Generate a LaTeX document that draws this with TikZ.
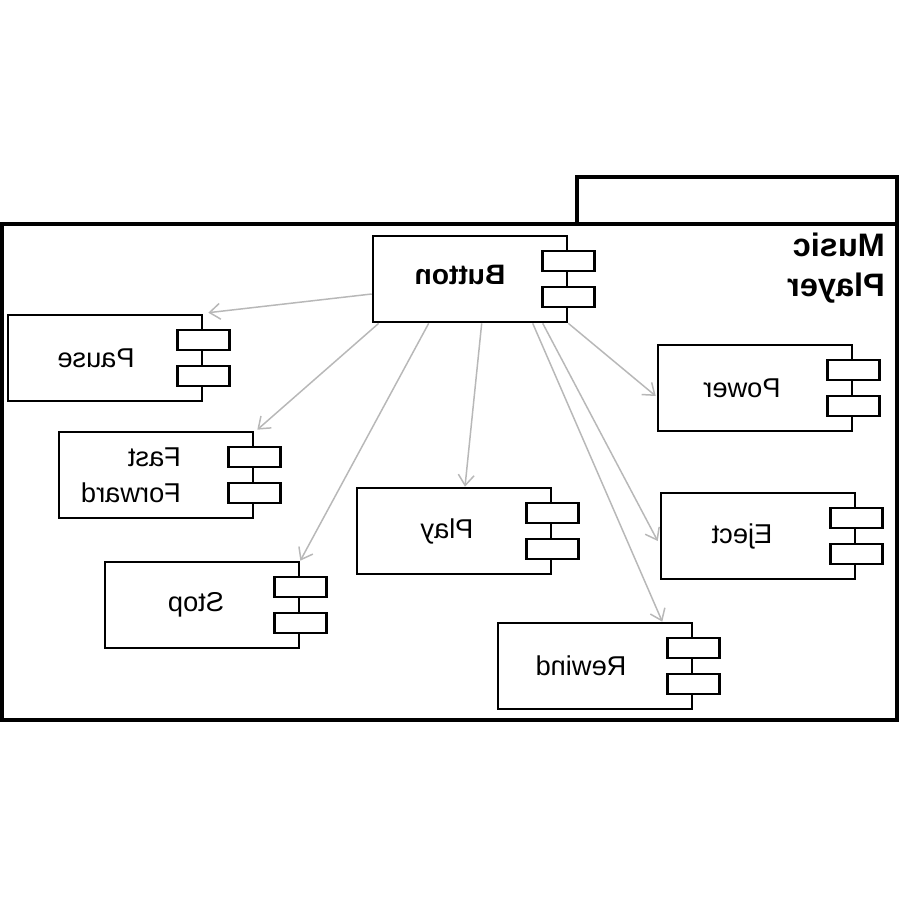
\documentclass[tikz,border=0pt]{standalone}
\usepackage{fontspec}
\setmainfont{Liberation Sans}
\usetikzlibrary{calc,arrows.meta}
\tikzstyle{comp} = [rectangle, draw, line width=1.5pt, fill=white, minimum width=3.88cm, minimum height=1.72cm, inner sep=0pt]
\tikzstyle{port} = [rectangle, draw, line width=1.5pt, fill=white, minimum width=1.04cm, minimum height=0.4cm, inner sep=0pt]
\tikzstyle{mirtext} = [xscale=-1, align=left, inner sep=1pt, font=\fontsize{15.5}{20.5}\selectfont]
\tikzstyle{uses} = [draw=black!28, line width=0.85pt, -{Straight Barb[length=6pt,width=9pt]}]

\begin{document}
\begin{tikzpicture}[x=0.02cm,y=-0.02cm]
  \useasboundingbox (0,0) rectangle (900,900);
  % package frame
  \draw[line width=1.8pt] (2,224) rectangle (897,720);
  \draw[line width=1.8pt] (577,224) |- (897,177) -- (897,224);
  \node[mirtext, anchor=west, font=\fontsize{18.5}{23}\selectfont\bfseries] (title) at (887,268) {Music\\Player};

  % components
  \node[comp] (button) at (470,279) {};
  \node[comp] (pause) at (105,358) {};
  \node[comp] (ff) at (156,475) {};
  \node[comp] (stop) at (202,605) {};
  \node[comp] (play) at (454,531) {};
  \node[comp] (rewind) at (595,666) {};
  \node[comp] (power) at (755,388) {};
  \node[comp] (eject) at (758,536) {};

  \foreach \c in {button,pause,ff,stop,play,rewind,power,eject} {
    \node[port] (\c-a) at ($(\c.east)+(0,-18)$) {};
    \node[port] (\c-b) at ($(\c.east)+(0,18)$) {};
  }

  % labels
  \node[mirtext, font=\fontsize{16}{21}\selectfont\bfseries] (button-t) at ($(button.center)+(-10,-4)$) {Button};
  \node[mirtext] (pause-t) at ($(pause.center)+(-9,0)$) {Pause};
  \node[mirtext] (ff-t) at ($(ff.center)+(-25,0)$) {Fast\\Forward};
  \node[mirtext] (stop-t) at ($(stop.center)+(-6,0)$) {Stop};
  \node[mirtext] (play-t) at ($(play.center)+(-7,0)$) {Play};
  \node[mirtext] (rewind-t) at ($(rewind.center)+(-14,0)$) {Rewind};
  \node[mirtext] (power-t) at ($(power.center)+(-13,0)$) {Power};
  \node[mirtext] (eject-t) at ($(eject.center)+(-16,0)$) {Eject};

  % dependencies
  \draw[uses] ($(button.west)+(0,15)$) -- ($(pause.north east)+(5,-1)$);
  \draw[uses] ($(button.south west)+(7,0)$) -- ($(ff.north east)+(3,-1)$);
  \draw[uses] ($(button.south west)+(57,0)$) -- (stop.north east);
  \draw[uses] ($(button.south west)+(110,0)$) -- ($(play.north)+(11,0)$);
  \draw[uses] ($(button.south west)+(161,0)$) -- ($(rewind.north east)+(-31,0)$);
  \draw[uses] ($(button.south west)+(171,0)$) -- ($(eject.west)+(-2,5)$);
  \draw[uses] (button.south east) -- ($(power.west)+(-1,8)$);
\end{tikzpicture}
\end{document}
